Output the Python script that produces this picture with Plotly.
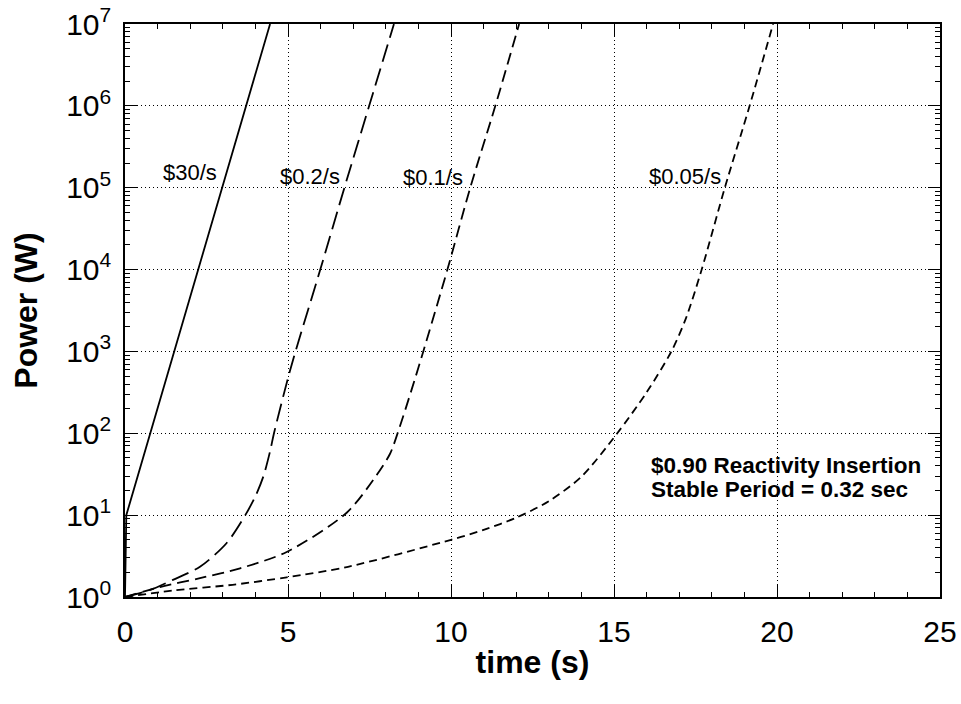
import plotly.graph_objects as go

# ---- data ----
t_30 = [0.0, 0.04, 4.45]
p_30 = [1, 10, 1e7]

t_02 = [0.0, 0.77, 1.47, 2.3, 3.12, 3.69, 4.0, 4.25, 4.45, 4.57, 5.01, 5.23, 5.99, 6.73, 7.49, 8.25]
p_02 = [1, 1.22, 1.62, 2.34, 4.57, 10, 17.0, 30.2, 60.3, 100, 490, 1e3, 1e4, 1e5, 1e6, 1e7]

t_01 = [0.0, 1.07, 2.3, 3.53, 4.96, 6.8, 7.72, 8.13, 8.38, 8.79, 9.15, 9.89, 10.59, 11.36, 12.09]
p_01 = [1, 1.32, 1.70, 2.24, 3.55, 10.7, 30.9, 56.2, 105, 339, 1e3, 1e4, 1e5, 1e6, 1e7]

t_005 = [0.0, 1.47, 3.3, 4.96, 6.84, 10.0, 11.0, 12.0, 13.0, 14.0, 15.1, 16.0, 16.76, 17.2, 17.69, 18.4, 19.16, 19.88]
p_005 = [1, 1.20, 1.41, 1.74, 2.34, 5.0, 6.6, 9.3, 14.8, 29.5, 100, 316, 1e3, 2.5e3, 1e4, 1e5, 1e6, 1e7]

series_names = ["$30/s", "$0.2/s", "$0.1/s", "$0.05/s"]
label_x = [1.99, 5.67, 9.45, 17.18]
label_log_y = [5.19, 5.14, 5.12, 5.14]

note_lines = ["$0.90 Reactivity Insertion", "Stable Period = 0.32 sec"]
note_x = 16.07
note_log_y = [1.61, 1.31]

x_ticks = [0, 5, 10, 15, 20, 25]
y_ticks = [1, 10, 100, 1e3, 1e4, 1e5, 1e6, 1e7]
y_ticktext = ["10<sup>%d</sup>" % i for i in range(8)]

FONT = "Arial, Liberation Sans, sans-serif"

fig = go.Figure()
styles = [
    (t_30, p_30, "solid", "linear"),
    (t_02, p_02, "18px,7px", "spline"),
    (t_01, p_01, "12px,6px", "spline"),
    (t_005, p_005, "8px,5px", "spline"),
]
for (tx, py, dash, shape), name in zip(styles, series_names):
    fig.add_trace(go.Scatter(x=tx, y=py, mode="lines", name=name,
                             line=dict(color="black", width=1.8, dash=dash, shape=shape,
                                       smoothing=0.8),
                             showlegend=False))

for name, lx, ly in zip(series_names, label_x, label_log_y):
    fig.add_annotation(x=lx, y=ly, text=name, showarrow=False,
                       font=dict(family=FONT, size=22, color="black"))

for line, ny in zip(note_lines, note_log_y):
    fig.add_annotation(x=note_x, y=ny, xanchor="left", yanchor="middle",
                       text="<b>%s</b>" % line, showarrow=False,
                       font=dict(family=FONT, size=22.5, color="black"))

axis_common = dict(showline=True, linecolor="black", linewidth=1.5, mirror="ticks",
                   ticks="inside", ticklen=12, tickwidth=1, tickcolor="black",
                   showgrid=True, gridcolor="black", gridwidth=1, griddash="1px,3px",
                   zeroline=False, automargin=False,
                   tickfont=dict(family=FONT, size=30, color="black"))

fig.update_xaxes(range=[0, 25], tickvals=x_ticks, ticklabelstandoff=7, **axis_common,
                 minor=dict(dtick=1, ticks="inside", ticklen=5, tickcolor="black", showgrid=False),
                 title=dict(text="<b>time (s)</b>", font=dict(family=FONT, size=32, color="black"),
                            standoff=4))
fig.update_yaxes(type="log", range=[0, 7], tickvals=y_ticks, ticktext=y_ticktext,
                 ticklabelstandoff=6, **axis_common,
                 minor=dict(dtick="D1", ticks="inside", ticklen=5, tickcolor="black", showgrid=False),
                 title=dict(text="<b>Power (W)</b>", font=dict(family=FONT, size=32, color="black"),
                            standoff=19))

fig.update_layout(width=961, height=704, plot_bgcolor="white", paper_bgcolor="white",
                  margin=dict(l=125, r=21, t=24, b=107))

fig.write_html("out.html")
